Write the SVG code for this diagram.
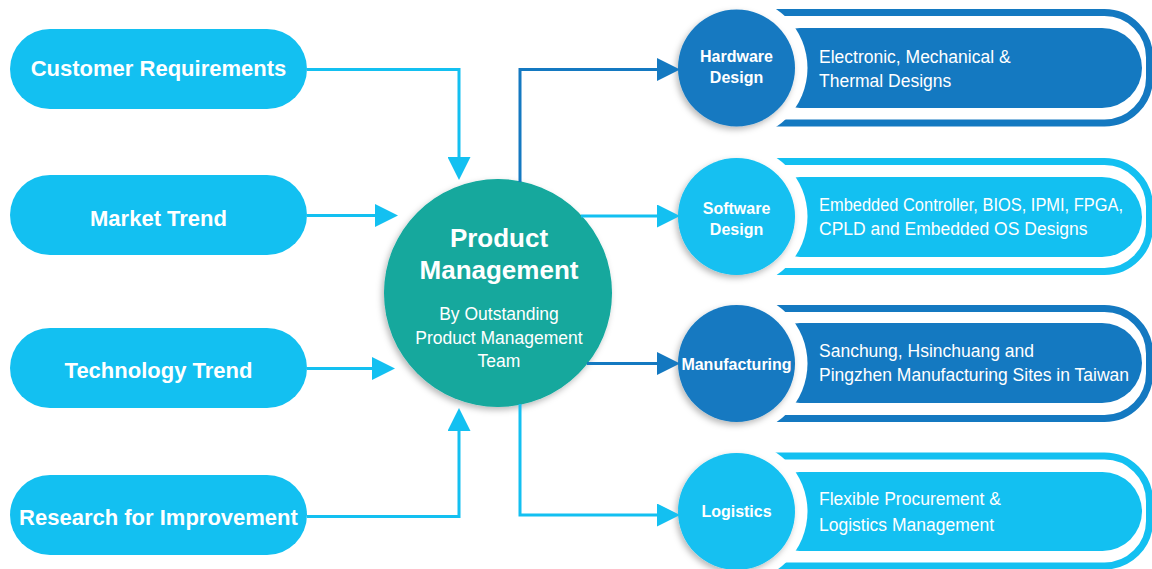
<svg xmlns="http://www.w3.org/2000/svg" width="1152" height="569" viewBox="0 0 1152 569">
<style>
.lb{fill:#13C0F1}
.db{fill:#1479C1}
.lbs{stroke:#13C0F1}
.dbs{stroke:#1479C1}
.conn{fill:none;stroke-width:3}
.band{fill:none;stroke-width:7}
.pilltxt{font-family:"Liberation Sans",Arial,sans-serif;font-weight:bold;font-size:22px;fill:#fff;text-anchor:middle}
.ntxt{font-family:"Liberation Sans",Arial,sans-serif;font-weight:bold;font-size:16px;fill:#fff;text-anchor:middle}
.dtxt{font-family:"Liberation Sans",Arial,sans-serif;font-size:17.5px;fill:#fff}
.ttl{font-family:"Liberation Sans",Arial,sans-serif;font-weight:bold;font-size:26px;fill:#fff;text-anchor:middle}
.sub{font-family:"Liberation Sans",Arial,sans-serif;font-size:17.5px;fill:#fff;text-anchor:middle}
</style>
<defs>
<marker id="aL" viewBox="0 0 23 23" refX="19" refY="11.5" markerWidth="23" markerHeight="23" markerUnits="userSpaceOnUse" orient="auto"><path d="M0,0 L23,11.5 L0,23 z" fill="#13C0F1"/></marker>
<marker id="aD" viewBox="0 0 23 23" refX="19" refY="11.5" markerWidth="23" markerHeight="23" markerUnits="userSpaceOnUse" orient="auto"><path d="M0,0 L23,11.5 L0,23 z" fill="#1479C1"/></marker>
<filter id="sh" x="-20%" y="-20%" width="140%" height="140%"><feDropShadow dx="-2" dy="3" stdDeviation="3" flood-color="#000" flood-opacity="0.28"/></filter>
</defs>
<rect width="1152" height="569" fill="#fff"/>

<g id="customer-requirements">
<rect class="lb" x="10" y="29" width="297" height="80" rx="40"/>
<text class="pilltxt" x="158.5" y="76">Customer Requirements</text>
</g>
<g id="market-trend">
<rect class="lb" x="10" y="175" width="297" height="80" rx="40"/>
<text class="pilltxt" x="158.5" y="225.5">Market Trend</text>
</g>
<g id="technology-trend">
<rect class="lb" x="10" y="328" width="297" height="80" rx="40"/>
<text class="pilltxt" x="158.5" y="377.5">Technology Trend</text>
</g>
<g id="research-for-improvement">
<rect class="lb" x="10" y="475" width="297" height="80" rx="40"/>
<text class="pilltxt" x="158.5" y="525">Research for Improvement</text>
</g>

<g id="product-management">
<circle cx="498" cy="293" r="114" fill="#12A89D" filter="url(#sh)"/>
<text class="ttl" x="499" y="247">Product</text>
<text class="ttl" x="499" y="279">Management</text>
<text class="sub" x="499" y="320">By Outstanding</text>
<text class="sub" x="499" y="343.5">Product Management</text>
<text class="sub" x="499" y="367">Team</text>
</g>

<g id="hardware-design">
<path class="band dbs" d="M720,12.5 H1104.5 A45,45 0 0 1 1149.5,57.5 V78 A45,45 0 0 1 1104.5,123 H720"/>
<rect class="db" x="760" y="28" width="382" height="80" rx="40"/>
<circle cx="736.5" cy="68" r="71" fill="#fff"/>
<circle cx="736.5" cy="68" r="58.5" class="db" filter="url(#sh)"/>
<text class="ntxt" x="736.5" y="62.3">Hardware</text>
<text class="ntxt" x="736.5" y="83.3">Design</text>
<text class="dtxt" x="819" y="63">Electronic, Mechanical &amp;</text>
<text class="dtxt" x="819" y="87">Thermal Designs</text>
</g>

<g id="software-design">
<path class="band lbs" d="M720,161.5 H1104.5 A45,45 0 0 1 1149.5,206.5 V226.5 A45,45 0 0 1 1104.5,271.5 H720"/>
<rect class="lb" x="760" y="177" width="382" height="80" rx="40"/>
<circle cx="736.5" cy="216.5" r="71" fill="#fff"/>
<circle cx="736.5" cy="216.5" r="58.5" class="lb" filter="url(#sh)"/>
<text class="ntxt" x="736.5" y="214">Software</text>
<text class="ntxt" x="736.5" y="235">Design</text>
<text class="dtxt" x="819" y="211" textLength="304" lengthAdjust="spacingAndGlyphs">Embedded Controller, BIOS, IPMI, FPGA,</text>
<text class="dtxt" x="819" y="235">CPLD and Embedded OS Designs</text>
</g>

<g id="manufacturing">
<path class="band dbs" d="M720,308.5 H1104.5 A45,45 0 0 1 1149.5,353.5 V373.5 A45,45 0 0 1 1104.5,418.5 H720"/>
<rect class="db" x="760" y="323" width="382" height="80" rx="40"/>
<circle cx="736.5" cy="363.5" r="71" fill="#fff"/>
<circle cx="736.5" cy="363.5" r="58.5" class="db" filter="url(#sh)"/>
<text class="ntxt" x="736.5" y="370">Manufacturing</text>
<text class="dtxt" x="819" y="357">Sanchung, Hsinchuang and</text>
<text class="dtxt" x="819" y="381">Pingzhen Manufacturing Sites in Taiwan</text>
</g>

<g id="logistics">
<path class="band lbs" d="M720,456 H1104.5 A45,45 0 0 1 1149.5,501 V521 A45,45 0 0 1 1104.5,566 H720"/>
<rect class="lb" x="760" y="472" width="382" height="79" rx="39.5"/>
<circle cx="736.5" cy="511.5" r="71" fill="#fff"/>
<circle cx="736.5" cy="511.5" r="58.5" class="lb" filter="url(#sh)"/>
<text class="ntxt" x="736.5" y="517">Logistics</text>
<text class="dtxt" x="819" y="505">Flexible Procurement &amp;</text>
<text class="dtxt" x="819" y="531">Logistics Management</text>
</g>

<g id="connectors">
<path class="conn lbs" d="M307,69.5 H459 V176" marker-end="url(#aL)"/>
<path class="conn lbs" d="M307,215.5 H394" marker-end="url(#aL)"/>
<path class="conn lbs" d="M307,368.5 H391" marker-end="url(#aL)"/>
<path class="conn lbs" d="M307,516.5 H459 V412" marker-end="url(#aL)"/>
<path class="conn dbs" d="M520,182 V69.5 H676" marker-end="url(#aD)"/>
<path class="conn lbs" d="M581,216 H676" marker-end="url(#aL)"/>
<path class="conn dbs" d="M587,363.5 H676" marker-end="url(#aD)"/>
<path class="conn lbs" d="M520,404 V515 H676" marker-end="url(#aL)"/>
</g>
</svg>
